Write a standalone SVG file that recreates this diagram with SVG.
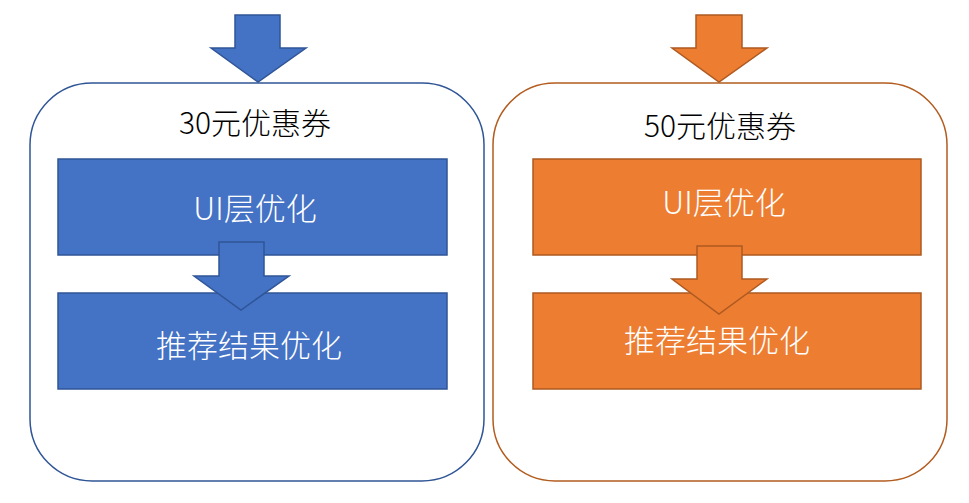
<svg xmlns="http://www.w3.org/2000/svg" width="969" height="503" viewBox="0 0 969 503">
<style>
.bg{fill:#ffffff}
.cb{fill:#ffffff;stroke:#2F5597;stroke-width:1.5}
.co{fill:#ffffff;stroke:#B35C1E;stroke-width:1.5}
.bb{fill:#4472C4;stroke:#2F5597;stroke-width:1.5}
.ob{fill:#ED7D31;stroke:#AE5A21;stroke-width:1.5}
.t{font-family:"Noto Sans CJK SC","Noto Sans",sans-serif;text-anchor:middle;font-weight:300}
.title{font-size:30px;fill:#000000}
.lbl{font-size:31px;fill:#ffffff}
</style>
<rect class="bg" x="0" y="0" width="969" height="503"/>
<g id="left-container">
<rect class="cb" x="30" y="83" width="454" height="398" rx="62" ry="62"/>
<text class="t title" x="255" y="134">30元优惠券</text>
</g>
<g id="right-container">
<rect class="co" x="493" y="83" width="454" height="398" rx="62" ry="62"/>
<text class="t title" x="720" y="137">50元优惠券</text>
</g>
<g id="left-ui">
<rect class="bb" x="58" y="159" width="389" height="96"/>
<text class="t lbl" x="255" y="220">UI层优化</text>
</g>
<g id="left-rec">
<rect class="bb" x="58" y="293" width="389" height="96"/>
<text class="t lbl" x="249" y="357">推荐结果优化</text>
</g>
<g id="right-ui">
<rect class="ob" x="533" y="159" width="388" height="96"/>
<text class="t lbl" x="724" y="214">UI层优化</text>
</g>
<g id="right-rec">
<rect class="ob" x="533" y="293" width="388" height="96"/>
<text class="t lbl" x="717" y="352">推荐结果优化</text>
</g>
<g id="connectors">
<polygon class="bb" points="235,15 280,15 280,48 306,48 258,82 211,48 235,48"/>
<polygon class="ob" points="696,15 742,15 742,48 767,48 719,82 672,48 696,48"/>
<polygon class="bb" points="219,242 264,242 264,276 289,276 241,310 194,276 219,276"/>
<polygon class="ob" points="697,246 742,246 742,279 767,279 719,314 672,279 697,279"/>
</g>
</svg>
